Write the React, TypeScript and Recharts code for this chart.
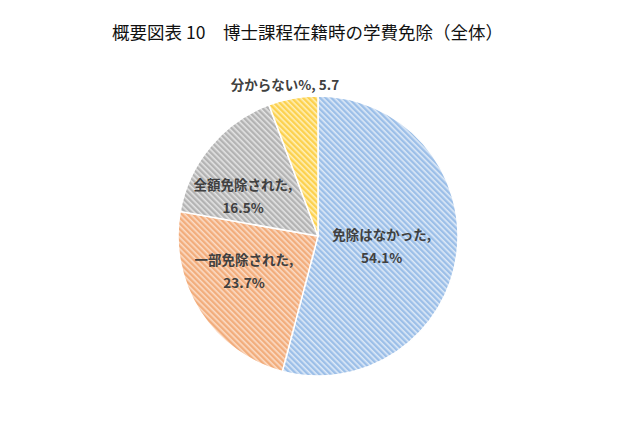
import { PieChart, Pie, Cell } from 'recharts';

const categories = ['免除はなかった', '一部免除された', '全額免除された', '分からない'];
const shares = [54.1, 23.7, 16.5, 5.7];
const valueTexts = ['54.1%', '23.7%', '16.5%', '5.7'];

// base colour + light stripe colour for each hatched slice
const BASE_COLORS = ['#9cbfe8', '#f2ad7c', '#b3b3b3', '#fcd14e'];
const STRIPE_COLORS = ['#dde9f7', '#fbdcc6', '#e4e4e4', '#fff0b8'];

// label placement tweaks (radius factor, angle shift in degrees)
const LABEL_RADIUS = [0.46, 0.584, 0.609, 1.11];
const LABEL_SHIFT = [-1.5, -7.4, 11.3, 2];

const chartData = categories.map((name, i) => ({ name, value: shares[i] }));

const RAD = Math.PI / 180;

function renderLabel(props: any) {
  const { cx, cy, midAngle, outerRadius, index } = props;
  const r = outerRadius * LABEL_RADIUS[index];
  const a = (midAngle + LABEL_SHIFT[index]) * RAD;
  const x = cx + r * Math.cos(a);
  const y = cy - r * Math.sin(a);
  const style = { fontFamily: '"Noto Sans CJK JP", sans-serif', fontSize: 13.5, fontWeight: 700, fill: '#404040' };
  if (index === 3) {
    return (
      <text x={x} y={y} textAnchor="middle" dominantBaseline="central" style={style}>
        {categories[index]}%, {valueTexts[index]}
      </text>
    );
  }
  return (
    <text x={x} y={y} textAnchor="middle" dominantBaseline="central" style={style}>
      <tspan x={x} dy={-11.5}>{categories[index]},</tspan>
      <tspan x={x} dy={23}>{valueTexts[index]}</tspan>
    </text>
  );
}

export default function App() {
  return (
    <div style={{ position: 'absolute', left: 0, top: 0, width: 640, height: 426, background: '#fff' }}>
      <div
        style={{
          position: 'absolute',
          left: 0,
          top: 19,
          width: 615,
          textAlign: 'center',
          fontFamily: '"Noto Sans CJK JP", sans-serif',
          fontSize: 17.5,
          color: '#111',
          lineHeight: '26px',
        }}
      >
        概要図表 10　博士課程在籍時の学費免除（全体）
      </div>
      <PieChart width={640} height={426} style={{ position: 'absolute', left: 0, top: 0 }}>
        <defs>
          {BASE_COLORS.map((c, i) => (
            <pattern
              key={i}
              id={`hatch-${i}`}
              patternUnits="userSpaceOnUse"
              width={4}
              height={4}
              patternTransform="rotate(45)"
            >
              <rect width={4} height={4} fill={c} />
              <rect width={4} height={1.6} fill={STRIPE_COLORS[i]} />
            </pattern>
          ))}
        </defs>
        <Pie
          data={chartData}
          dataKey="value"
          nameKey="name"
          cx={313}
          cy={231}
          outerRadius={140}
          startAngle={90}
          endAngle={-270}
          stroke="#ffffff"
          strokeWidth={1.5}
          label={renderLabel}
          labelLine={false}
          isAnimationActive={false}
        >
          {chartData.map((d, i) => (
            <Cell key={d.name} fill={`url(#hatch-${i})`} />
          ))}
        </Pie>
      </PieChart>
    </div>
  );
}
